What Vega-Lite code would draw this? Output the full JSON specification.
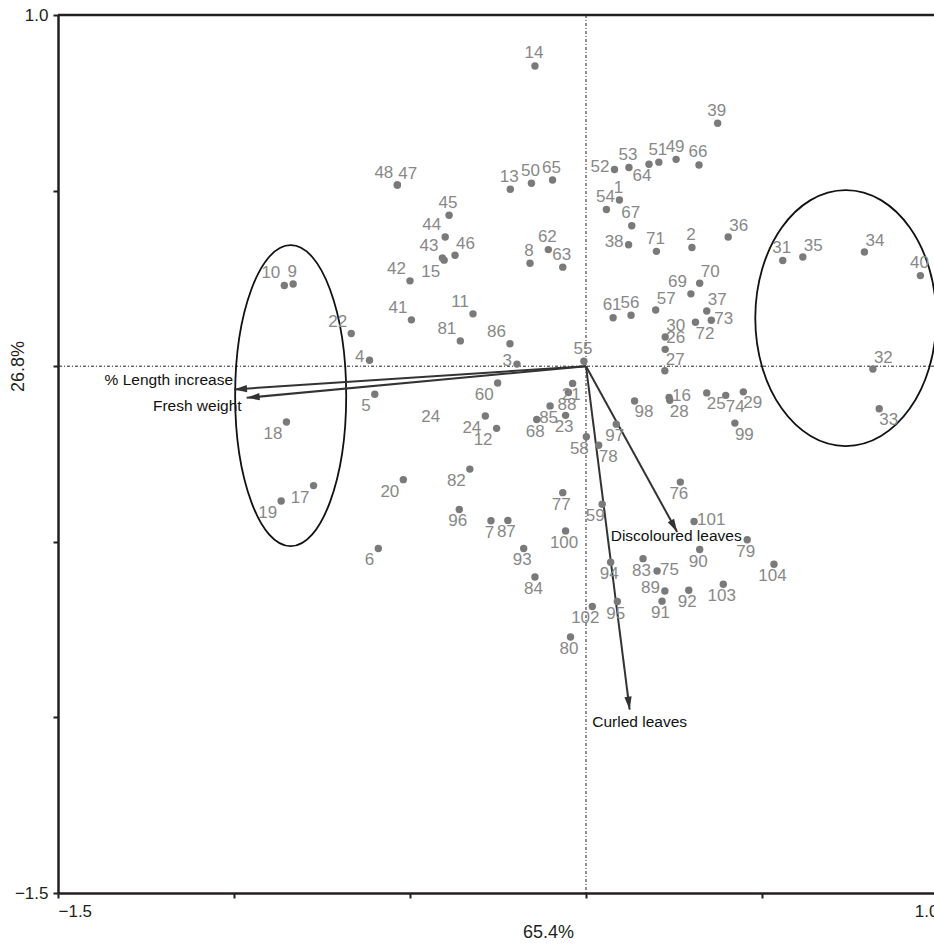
{
  "$schema": "https://vega.github.io/schema/vega-lite/v6.json",
  "width": 876,
  "height": 878,
  "autosize": {"type": "none"},
  "padding": {"left": 58, "top": 15, "right": 0, "bottom": 54},
  "background": "white",
  "config": {"view": {"stroke": null}, "font": "Liberation Sans"},
  "datasets": {
    "pts": [
      {"id": "1", "x": 0.095, "y": 0.473, "pos": "n"},
      {"id": "2", "x": 0.301, "y": 0.338, "pos": "n"},
      {"id": "3", "x": -0.196, "y": 0.006, "pos": "w"},
      {"id": "4", "x": -0.615, "y": 0.017, "pos": "w"},
      {"id": "5", "x": -0.600, "y": -0.080, "pos": "sw"},
      {"id": "6", "x": -0.590, "y": -0.519, "pos": "sw"},
      {"id": "7", "x": -0.270, "y": -0.440, "pos": "s"},
      {"id": "8", "x": -0.159, "y": 0.293, "pos": "n"},
      {"id": "9", "x": -0.832, "y": 0.234, "pos": "n"},
      {"id": "10", "x": -0.857, "y": 0.230, "pos": "nw"},
      {"id": "11", "x": -0.321, "y": 0.149, "pos": "nw"},
      {"id": "12", "x": -0.254, "y": -0.177, "pos": "sw"},
      {"id": "13", "x": -0.215, "y": 0.504, "pos": "n"},
      {"id": "14", "x": -0.145, "y": 0.855, "pos": "n"},
      {"id": "15", "x": -0.403, "y": 0.302, "pos": "sw"},
      {"id": "16", "x": 0.236, "y": -0.089, "pos": "e"},
      {"id": "17", "x": -0.774, "y": -0.340, "pos": "sw"},
      {"id": "18", "x": -0.851, "y": -0.159, "pos": "sw"},
      {"id": "19", "x": -0.866, "y": -0.384, "pos": "sw"},
      {"id": "20", "x": -0.519, "y": -0.323, "pos": "sw"},
      {"id": "21", "x": -0.038, "y": -0.049, "pos": "s"},
      {"id": "22", "x": -0.667, "y": 0.093, "pos": "nw"},
      {"id": "23", "x": -0.058, "y": -0.140, "pos": "s"},
      {"id": "24", "x": -0.286, "y": -0.142, "pos": "sw"},
      {"id": "25", "x": 0.343, "y": -0.076, "pos": "se"},
      {"id": "26", "x": 0.225, "y": 0.048, "pos": "ne"},
      {"id": "27", "x": 0.224, "y": -0.013, "pos": "ne"},
      {"id": "28", "x": 0.238, "y": -0.097, "pos": "se"},
      {"id": "29", "x": 0.447, "y": -0.073, "pos": "se"},
      {"id": "30", "x": 0.225, "y": 0.083, "pos": "ne"},
      {"id": "31", "x": 0.559, "y": 0.301, "pos": "n"},
      {"id": "32", "x": 0.815, "y": -0.008, "pos": "ne"},
      {"id": "33", "x": 0.833, "y": -0.121, "pos": "se"},
      {"id": "34", "x": 0.791, "y": 0.325, "pos": "ne"},
      {"id": "35", "x": 0.616, "y": 0.311, "pos": "ne"},
      {"id": "36", "x": 0.404, "y": 0.368, "pos": "ne"},
      {"id": "37", "x": 0.343, "y": 0.157, "pos": "ne"},
      {"id": "38", "x": 0.121, "y": 0.346, "pos": "w"},
      {"id": "39", "x": 0.374, "y": 0.692, "pos": "n"},
      {"id": "40", "x": 0.950, "y": 0.258, "pos": "n"},
      {"id": "41", "x": -0.496, "y": 0.132, "pos": "nw"},
      {"id": "42", "x": -0.500, "y": 0.243, "pos": "nw"},
      {"id": "43", "x": -0.408, "y": 0.308, "pos": "nw"},
      {"id": "44", "x": -0.400, "y": 0.368, "pos": "nw"},
      {"id": "45", "x": -0.389, "y": 0.430, "pos": "n"},
      {"id": "46", "x": -0.372, "y": 0.316, "pos": "ne"},
      {"id": "47", "x": -0.536, "y": 0.516, "pos": "ne"},
      {"id": "48", "x": -0.536, "y": 0.516, "pos": "nw"},
      {"id": "49", "x": 0.256, "y": 0.589, "pos": "n"},
      {"id": "50", "x": -0.155, "y": 0.521, "pos": "n"},
      {"id": "51", "x": 0.207, "y": 0.581, "pos": "n"},
      {"id": "52", "x": 0.081, "y": 0.560, "pos": "w"},
      {"id": "53", "x": 0.122, "y": 0.566, "pos": "n"},
      {"id": "54", "x": 0.058, "y": 0.446, "pos": "n"},
      {"id": "55", "x": -0.006, "y": 0.014, "pos": "n"},
      {"id": "56", "x": 0.128, "y": 0.145, "pos": "n"},
      {"id": "57", "x": 0.198, "y": 0.160, "pos": "ne"},
      {"id": "58", "x": 0.001, "y": -0.201, "pos": "ssw"},
      {"id": "59", "x": 0.046, "y": -0.393, "pos": "ssw"},
      {"id": "60", "x": -0.251, "y": -0.048, "pos": "sw"},
      {"id": "61", "x": 0.077, "y": 0.138, "pos": "n"},
      {"id": "62", "x": -0.107, "y": 0.332, "pos": "n"},
      {"id": "63", "x": -0.066, "y": 0.282, "pos": "n"},
      {"id": "64", "x": 0.179, "y": 0.575, "pos": "ssw"},
      {"id": "65", "x": -0.095, "y": 0.530, "pos": "n"},
      {"id": "66", "x": 0.321, "y": 0.573, "pos": "n"},
      {"id": "67", "x": 0.130, "y": 0.400, "pos": "n"},
      {"id": "68", "x": -0.140, "y": -0.152, "pos": "s"},
      {"id": "69", "x": 0.298, "y": 0.206, "pos": "nw"},
      {"id": "70", "x": 0.323, "y": 0.236, "pos": "ne"},
      {"id": "71", "x": 0.200, "y": 0.327, "pos": "n"},
      {"id": "72", "x": 0.311, "y": 0.125, "pos": "se"},
      {"id": "73", "x": 0.356, "y": 0.131, "pos": "e"},
      {"id": "74", "x": 0.397, "y": -0.083, "pos": "se"},
      {"id": "75", "x": 0.202, "y": -0.583, "pos": "e"},
      {"id": "76", "x": 0.268, "y": -0.330, "pos": "s"},
      {"id": "77", "x": -0.066, "y": -0.360, "pos": "s"},
      {"id": "78", "x": 0.036, "y": -0.225, "pos": "se"},
      {"id": "79", "x": 0.458, "y": -0.494, "pos": "s"},
      {"id": "80", "x": -0.044, "y": -0.771, "pos": "s"},
      {"id": "81", "x": -0.357, "y": 0.072, "pos": "nw"},
      {"id": "82", "x": -0.330, "y": -0.293, "pos": "sw"},
      {"id": "83", "x": 0.162, "y": -0.548, "pos": "s"},
      {"id": "84", "x": -0.145, "y": -0.600, "pos": "s"},
      {"id": "85", "x": -0.102, "y": -0.113, "pos": "s"},
      {"id": "86", "x": -0.216, "y": 0.064, "pos": "nw"},
      {"id": "87", "x": -0.222, "y": -0.439, "pos": "s"},
      {"id": "88", "x": -0.050, "y": -0.075, "pos": "s"},
      {"id": "89", "x": 0.224, "y": -0.640, "pos": "w"},
      {"id": "90", "x": 0.323, "y": -0.522, "pos": "s"},
      {"id": "91", "x": 0.216, "y": -0.669, "pos": "s"},
      {"id": "92", "x": 0.292, "y": -0.638, "pos": "s"},
      {"id": "93", "x": -0.177, "y": -0.519, "pos": "s"},
      {"id": "94", "x": 0.070, "y": -0.558, "pos": "s"},
      {"id": "95", "x": 0.089, "y": -0.670, "pos": "s"},
      {"id": "96", "x": -0.360, "y": -0.408, "pos": "s"},
      {"id": "97", "x": 0.086, "y": -0.165, "pos": "s"},
      {"id": "98", "x": 0.138, "y": -0.099, "pos": "se"},
      {"id": "99", "x": 0.423, "y": -0.162, "pos": "se"},
      {"id": "100", "x": -0.058, "y": -0.469, "pos": "s"},
      {"id": "101", "x": 0.307, "y": -0.442, "pos": "e"},
      {"id": "102", "x": 0.018, "y": -0.684, "pos": "ssw"},
      {"id": "103", "x": 0.390, "y": -0.621, "pos": "s"},
      {"id": "104", "x": 0.534, "y": -0.564, "pos": "s"}
    ],
    "stray": [
      {"id": "24", "x": -0.441, "y": -0.146}
    ],
    "arrows": [
      {"name": "% Length increase", "x0": 0, "y0": 0, "x": -1.0, "y": -0.066},
      {"name": "Fresh weight", "x0": 0, "y0": 0, "x": -0.964, "y": -0.090},
      {"name": "Discoloured leaves", "x0": 0, "y0": 0, "x": 0.259, "y": -0.472},
      {"name": "Curled leaves", "x0": 0, "y0": 0, "x": 0.124, "y": -0.978}
    ],
    "ellipses": [
      {"group": "left", "x": -0.839, "y": -0.084},
      {"group": "right", "x": 0.738, "y": 0.137}
    ]
  },
  "layer": [
    {
      "data": {"values": [{}]},
      "mark": {"type": "rule", "color": "#231f20", "strokeWidth": 1, "strokeDash": [3, 2, 1, 2]},
      "encoding": {
        "x": {
          "datum": 0,
          "type": "quantitative",
          "scale": {"domain": [-1.5, 1.0], "range": [0, 880], "nice": false, "zero": false},
          "axis": {
            "values": [-1.5, -1, -0.5, 0, 0.5, 1],
            "labelExpr": "datum.value == -1.5 ? '−1.5' : (datum.value == 1 ? '1.0' : '')",
            "labelFlush": true,
            "labelFont": "Liberation Sans",
            "labelFontSize": 17,
            "labelColor": "#231f20",
            "labelPadding": 5,
            "domainColor": "#231f20",
            "domainWidth": 2.5,
            "tickColor": "#231f20",
            "tickWidth": 2,
            "tickSize": 5,
            "grid": false,
            "title": "65.4%",
            "titleFont": "Liberation Sans",
            "titleFontSize": 18,
            "titleFontWeight": "normal",
            "titleColor": "#231f20",
            "titleX": 490,
            "titleY": 39,
            "titleAlign": "center",
            "titleBaseline": "middle"
          }
        }
      }
    },
    {
      "data": {"values": [{}]},
      "mark": {"type": "rule", "color": "#231f20", "strokeWidth": 1, "strokeDash": [3, 2, 1, 2]},
      "encoding": {
        "y": {
          "datum": 0,
          "type": "quantitative",
          "scale": {"domain": [-1.5, 1.0], "nice": false, "zero": false},
          "axis": {
            "values": [-1.5, -1, -0.5, 0, 0.5, 1],
            "labelExpr": "datum.value == -1.5 ? '−1.5' : (datum.value == 1 ? '1.0' : '')",
            "labelFont": "Liberation Sans",
            "labelFontSize": 17,
            "labelColor": "#231f20",
            "labelPadding": 5,
            "domainColor": "#231f20",
            "domainWidth": 2.5,
            "tickColor": "#231f20",
            "tickWidth": 2,
            "tickSize": 5,
            "grid": false,
            "title": "26.8%",
            "titleFont": "Liberation Sans",
            "titleFontSize": 18,
            "titleFontWeight": "normal",
            "titleColor": "#231f20",
            "titleX": -40,
            "titleY": 351,
            "titleAngle": -90,
            "titleAlign": "center",
            "titleBaseline": "middle"
          }
        }
      }
    },
    {
      "data": {"values": [{}]},
      "mark": {"type": "rule", "color": "#231f20", "strokeWidth": 2.5},
      "encoding": {"y": {"datum": 1, "type": "quantitative"}}
    },
    {
      "data": {"name": "ellipses"},
      "transform": [{"filter": "datum.group == 'left'"}],
      "mark": {"type": "point", "filled": false, "stroke": "#111", "strokeWidth": 1.8, "opacity": 1,
               "shape": "M -0.369 0 A 0.369 1 0 1 0 0.369 0 A 0.369 1 0 1 0 -0.369 0 Z", "size": 90601},
      "encoding": {
        "x": {"field": "x", "type": "quantitative"},
        "y": {"field": "y", "type": "quantitative"}
      }
    },
    {
      "data": {"name": "ellipses"},
      "transform": [{"filter": "datum.group == 'right'"}],
      "mark": {"type": "point", "filled": false, "stroke": "#111", "strokeWidth": 1.8, "opacity": 1,
               "shape": "M -0.707 0 A 0.707 1 0 1 0 0.707 0 A 0.707 1 0 1 0 -0.707 0 Z", "size": 65536},
      "encoding": {
        "x": {"field": "x", "type": "quantitative"},
        "y": {"field": "y", "type": "quantitative"}
      }
    },
    {
      "data": {"name": "arrows"},
      "mark": {"type": "rule", "color": "#333333", "strokeWidth": 2},
      "encoding": {
        "x": {"field": "x0", "type": "quantitative"},
        "y": {"field": "y0", "type": "quantitative"},
        "x2": {"field": "x"},
        "y2": {"field": "y"}
      }
    },
    {
      "data": {"name": "arrows"},
      "transform": [{"calculate": "atan2(datum.x, datum.y) * 180 / PI", "as": "angle"}],
      "mark": {"type": "point", "filled": true, "color": "#333333", "opacity": 1,
               "shape": "M 0 0 L 0.28 1 L -0.28 1 Z", "size": 676},
      "encoding": {
        "x": {"field": "x", "type": "quantitative"},
        "y": {"field": "y", "type": "quantitative"},
        "angle": {"field": "angle", "type": "quantitative", "scale": null}
      }
    },
    {
      "data": {"name": "pts"},
      "mark": {"type": "point", "filled": true, "color": "#7a7a7a", "opacity": 1, "size": 55, "shape": "circle"},
      "encoding": {
        "x": {"field": "x", "type": "quantitative"},
        "y": {"field": "y", "type": "quantitative"}
      }
    },
    {
      "data": {"name": "pts"},
      "transform": [{"filter": "datum.pos == 'n'"}],
      "mark": {"type": "text", "align": "center", "baseline": "middle", "dx": -1, "dy": -12.5, "fontSize": 17, "color": "#888888", "font": "Liberation Sans"},
      "encoding": {"x": {"field": "x", "type": "quantitative"}, "y": {"field": "y", "type": "quantitative"}, "text": {"field": "id"}}
    },
    {
      "data": {"name": "pts"},
      "transform": [{"filter": "datum.pos == 's'"}],
      "mark": {"type": "text", "align": "center", "baseline": "middle", "dx": -1.5, "dy": 12, "fontSize": 17, "color": "#888888", "font": "Liberation Sans"},
      "encoding": {"x": {"field": "x", "type": "quantitative"}, "y": {"field": "y", "type": "quantitative"}, "text": {"field": "id"}}
    },
    {
      "data": {"name": "pts"},
      "transform": [{"filter": "datum.pos == 'ssw'"}],
      "mark": {"type": "text", "align": "center", "baseline": "middle", "dx": -7, "dy": 12, "fontSize": 17, "color": "#888888", "font": "Liberation Sans"},
      "encoding": {"x": {"field": "x", "type": "quantitative"}, "y": {"field": "y", "type": "quantitative"}, "text": {"field": "id"}}
    },
    {
      "data": {"name": "pts"},
      "transform": [{"filter": "datum.pos == 'ne'"}],
      "mark": {"type": "text", "align": "left", "baseline": "middle", "dx": 1, "dy": -11, "fontSize": 17, "color": "#888888", "font": "Liberation Sans"},
      "encoding": {"x": {"field": "x", "type": "quantitative"}, "y": {"field": "y", "type": "quantitative"}, "text": {"field": "id"}}
    },
    {
      "data": {"name": "pts"},
      "transform": [{"filter": "datum.pos == 'nw'"}],
      "mark": {"type": "text", "align": "right", "baseline": "middle", "dx": -4, "dy": -12, "fontSize": 17, "color": "#888888", "font": "Liberation Sans"},
      "encoding": {"x": {"field": "x", "type": "quantitative"}, "y": {"field": "y", "type": "quantitative"}, "text": {"field": "id"}}
    },
    {
      "data": {"name": "pts"},
      "transform": [{"filter": "datum.pos == 'se'"}],
      "mark": {"type": "text", "align": "left", "baseline": "middle", "dx": 0, "dy": 11.5, "fontSize": 17, "color": "#888888", "font": "Liberation Sans"},
      "encoding": {"x": {"field": "x", "type": "quantitative"}, "y": {"field": "y", "type": "quantitative"}, "text": {"field": "id"}}
    },
    {
      "data": {"name": "pts"},
      "transform": [{"filter": "datum.pos == 'sw'"}],
      "mark": {"type": "text", "align": "right", "baseline": "middle", "dx": -4, "dy": 12, "fontSize": 17, "color": "#888888", "font": "Liberation Sans"},
      "encoding": {"x": {"field": "x", "type": "quantitative"}, "y": {"field": "y", "type": "quantitative"}, "text": {"field": "id"}}
    },
    {
      "data": {"name": "pts"},
      "transform": [{"filter": "datum.pos == 'e'"}],
      "mark": {"type": "text", "align": "left", "baseline": "middle", "dx": 3, "dy": -1, "fontSize": 17, "color": "#888888", "font": "Liberation Sans"},
      "encoding": {"x": {"field": "x", "type": "quantitative"}, "y": {"field": "y", "type": "quantitative"}, "text": {"field": "id"}}
    },
    {
      "data": {"name": "pts"},
      "transform": [{"filter": "datum.pos == 'w'"}],
      "mark": {"type": "text", "align": "right", "baseline": "middle", "dx": -5, "dy": -3, "fontSize": 17, "color": "#888888", "font": "Liberation Sans"},
      "encoding": {"x": {"field": "x", "type": "quantitative"}, "y": {"field": "y", "type": "quantitative"}, "text": {"field": "id"}}
    },
    {
      "data": {"name": "stray"},
      "mark": {"type": "text", "align": "center", "baseline": "middle", "fontSize": 17, "color": "#888888", "font": "Liberation Sans"},
      "encoding": {"x": {"field": "x", "type": "quantitative"}, "y": {"field": "y", "type": "quantitative"}, "text": {"field": "id"}}
    },
    {
      "data": {"name": "arrows"},
      "transform": [{"filter": "datum.name == '% Length increase'"}],
      "mark": {"type": "text", "align": "right", "baseline": "middle", "dx": -1, "dy": -9, "fontSize": 15.5, "color": "#111111", "font": "Liberation Sans"},
      "encoding": {"x": {"field": "x", "type": "quantitative"}, "y": {"field": "y", "type": "quantitative"}, "text": {"field": "name"}}
    },
    {
      "data": {"name": "arrows"},
      "transform": [{"filter": "datum.name == 'Fresh weight'"}],
      "mark": {"type": "text", "align": "right", "baseline": "middle", "dx": -5, "dy": 8, "fontSize": 15.5, "color": "#111111", "font": "Liberation Sans"},
      "encoding": {"x": {"field": "x", "type": "quantitative"}, "y": {"field": "y", "type": "quantitative"}, "text": {"field": "name"}}
    },
    {
      "data": {"name": "arrows"},
      "transform": [{"filter": "datum.name == 'Discoloured leaves'"}],
      "mark": {"type": "text", "align": "center", "baseline": "middle", "dx": -1, "dy": 4, "fontSize": 15.5, "color": "#111111", "font": "Liberation Sans"},
      "encoding": {"x": {"field": "x", "type": "quantitative"}, "y": {"field": "y", "type": "quantitative"}, "text": {"field": "name"}}
    },
    {
      "data": {"name": "arrows"},
      "transform": [{"filter": "datum.name == 'Curled leaves'"}],
      "mark": {"type": "text", "align": "center", "baseline": "middle", "dx": 10, "dy": 12, "fontSize": 15.5, "color": "#111111", "font": "Liberation Sans"},
      "encoding": {"x": {"field": "x", "type": "quantitative"}, "y": {"field": "y", "type": "quantitative"}, "text": {"field": "name"}}
    }
  ]
}
